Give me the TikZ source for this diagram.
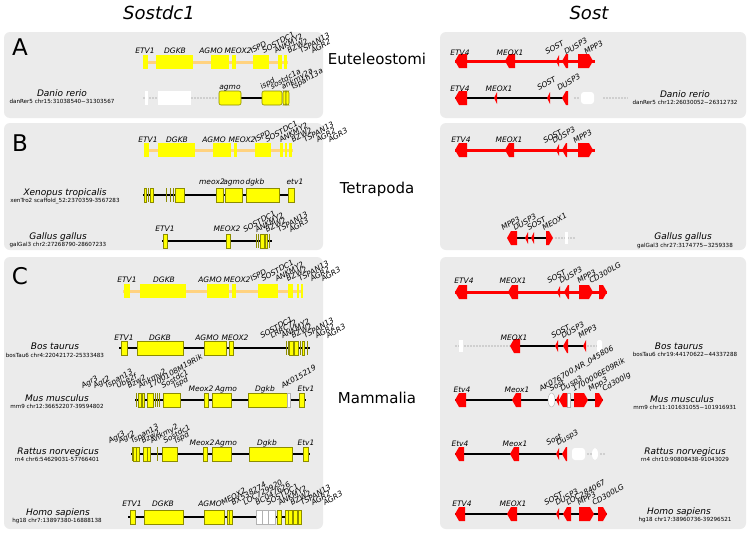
\documentclass[tikz,border=0pt]{standalone}
\usepackage{fontspec}
\setmainfont{DejaVu Sans}
\usetikzlibrary{calc}

\definecolor{panelgray}{HTML}{EBEBEB}
\definecolor{genefill}{HTML}{FFFF00}
\definecolor{refline}{HTML}{FFD27F}
\definecolor{geneedge}{HTML}{8C8C00}
\definecolor{sostred}{HTML}{FF0000}
\definecolor{gapgray}{HTML}{CFCFCF}

\begin{document}
\begin{tikzpicture}[x=1pt, y=-1pt,
        panel/.style={fill=panelgray, rounded corners=6pt},
        refaxis/.style={draw=refline, line width=3pt},
        redaxis/.style={draw=sostred, line width=3pt},
        chrom/.style={draw=black, line width=2.6pt},
        gapline/.style={draw=gapgray, line width=2.5pt, dash pattern=on 2pt off 1pt},
        refgene/.style={fill=genefill},
        sgene/.style={fill=genefill, draw=geneedge, line width=0.6pt},
        tick/.style={draw=geneedge, line width=0.6pt},
        redgene/.style={fill=sostred},
        ghost/.style={fill=white, draw=gray!60, line width=0.4pt},
        glbl/.style={font=\fontsize{7.5}{8}\selectfont\itshape, inner sep=0pt, anchor=base},
        rlbl/.style={font=\fontsize{7.5}{8}\selectfont\itshape, inner sep=0pt, rotate=30, anchor=base west},
        species/.style={font=\fontsize{9}{10}\selectfont\itshape, inner sep=0pt, anchor=base},
        loc/.style={font=\fontsize{5.6}{6}\selectfont, inner sep=0pt, anchor=base},
        clade/.style={font=\fontsize{15}{16}\selectfont, inner sep=0pt, anchor=base},
        letter/.style={font=\fontsize{23}{24}\selectfont, inner sep=0pt, anchor=base},
        title/.style={font=\fontsize{18}{20}\selectfont\itshape, inner sep=0pt, anchor=base}
    ]
    \fill[white] (0,0) rectangle (750,533);
    \useasboundingbox (0,0) rectangle (750,533);

    % panels
    \foreach \t/\b in {32/118,123/250,257/529} {
        \fill[panel] (4,\t) rectangle (323,\b);
        \fill[panel] (440,\t) rectangle (746,\b);
    }

    % titles, clades, panel letters
    \node[title] (ttl-sostdc1) at (159,19.5) {Sostdc1};
    \node[title] (ttl-sost) at (589,19) {Sost};
    \node[clade] (eutel) at (377,64.5) {Euteleostomi};
    \node[clade] (tetra) at (377,193.5) {Tetrapoda};
    \node[clade] (mamm) at (377,403) {Mammalia};
    \node[letter] (pA) at (20,55) {A};
    \node[letter] (pB) at (20,151) {B};
    \node[letter] (pC) at (20,284) {C};

    %% ---------- Sostdc1 side ----------
    % A: reference
    \draw[refaxis] (143,62) -- (288,62);
    \foreach \a/\b in {143/148,156/193,211/229,232/236,253/269,278/282,284/287}
        \fill[refgene] (\a,55) rectangle (\b,69);
    \foreach \x/\t [count=\k] in {145/ETV1,175/DGKB,211/AGMO,238/MEOX2}
        \node[glbl] (l-a1-\k) at (\x,53) {\t};
    \foreach \x/\t [count=\k] in {252/ISPD,264/SOSTDC1,276/ANKMY2,289/BZW2,301/TSPAN13,313/AGR2}
        \node[rlbl] (l-a1-r\k) at (\x,54) {\t};

    % A: Danio rerio
    \draw[gapline] (143,98) -- (218,98);
    \fill[white] (145,91) rectangle (148,105);
    \fill[white] (158,91) rectangle (191,105);
    \draw[chrom] (241,98) -- (262,98);
    \foreach \a/\b in {219/241,262/282,283/286,286/289}
        \filldraw[sgene, rounded corners=2pt] (\a,91) rectangle (\b,105);
    \node[glbl] (l-a2-1) at (230,89) {agmo};
    \foreach \x/\t [count=\k] in {262/ispd,272/sostdc1a,283/ankmy2a,293/tspan13a}
        \node[rlbl] (l-a2-r\k) at (\x,90) {\t};
    \node[species] (danio-l) at (62,96.5) {Danio rerio};
    \node[loc] (danio-l-loc) at (62,103) {danRer5 chr15:31038540−31303567};

    % B: reference
    \draw[refaxis] (144,150) -- (293,150);
    \foreach \a/\b in {144/149,158/195,213/231,234/237,255/271,280/283,285/287,289/292}
        \fill[refgene] (\a,143) rectangle (\b,157);
    \foreach \x/\t [count=\k] in {148/ETV1,177/DGKB,214/AGMO,242/MEOX2}
        \node[glbl] (l-b1-\k) at (\x,142.5) {\t};
    \foreach \x/\t [count=\k] in {256/ISPD,267/SOSTDC1,281/ANKMY2,293/BZW2,305/TSPAN13,318/AGR2,330/AGR3}
        \node[rlbl] (l-b1-r\k) at (\x,143) {\t};

    % B: Xenopus tropicalis
    \draw[chrom] (143,195) -- (295,195);
    \foreach \a/\b in {144/146,150/153,175/184,216/223,225/242,246/279,288/294}
        \filldraw[sgene] (\a,188) rectangle (\b,202);
    \foreach \x in {148,166,170,173}
        \draw[tick] (\x,188) -- (\x,202);
    \foreach \x/\t [count=\k] in {212/meox2,234/agmo,255/dgkb,295/etv1}
        \node[glbl] (l-b2-\k) at (\x,184) {\t};
    \node[species] (xeno-l) at (65,195.5) {Xenopus tropicalis};
    \node[loc] (xeno-l-loc) at (65,202) {xenTro2 scaffold\_52:2370359-3567283};

    % B: Gallus gallus
    \draw[chrom] (162,241) -- (272,241);
    \foreach \a/\b in {163/167,226/230,260/264,265/267}
        \filldraw[sgene] (\a,234) rectangle (\b,248);
    \foreach \x in {256,258,269}
        \draw[tick] (\x,234) -- (\x,248);
    \foreach \x/\t [count=\k] in {165/ETV1,227/MEOX2}
        \node[glbl] (l-b3-\k) at (\x,231.5) {\t};
    \foreach \x/\t [count=\k] in {245/SOSTDC1,257/ANKMY2,267/BZW2,279/TSPAN13,291/AGR3}
        \node[rlbl] (l-b3-r\k) at (\x,233) {\t};
    \node[species] (gallus-l) at (58,239.5) {Gallus gallus};
    \node[loc] (gallus-l-loc) at (58,246) {galGal3 chr2:27268790-28607233};

    % C: reference
    \draw[refaxis] (123,291) -- (303,291);
    \foreach \a/\b in {124/130,140/186,207/229,232/236,258/278,288/293,297/299,301/303}
        \fill[refgene] (\a,284) rectangle (\b,298);
    \foreach \x/\t [count=\k] in {127/ETV1,164/DGKB,210/AGMO,237/MEOX2}
        \node[glbl] (l-c1-\k) at (\x,282) {\t};
    \foreach \x/\t [count=\k] in {252/ISPD,263/SOSTDC1,277/ANKMY2,288/BZW2,300/TSPAN13,312/AGR2,323/AGR3}
        \node[rlbl] (l-c1-r\k) at (\x,282) {\t};

    % C: Bos taurus
    \draw[chrom] (119,348) -- (310,348);
    \foreach \a/\b in {121/127,137/183,204/226,229/233,289/293,294/298,302/304}
        \filldraw[sgene] (\a,341) rectangle (\b,355);
    \foreach \x in {286,288,300,307}
        \draw[tick] (\x,341) -- (\x,355);
    \foreach \x/\t [count=\k] in {124/ETV1,160/DGKB,207/AGMO,235/MEOX2}
        \node[glbl] (l-c2-\k) at (\x,340) {\t};
    \foreach \x/\t [count=\k] in {262/SOSTDC1,272/LRRC72,283/ANKMY2,293/BZW2,305/TSPAN13,317/AGR2,328/AGR3}
        \node[rlbl] (l-c2-r\k) at (\x,339) {\t};
    \node[species] (bos-l) at (55,349) {Bos taurus};
    \node[loc] (bos-l-loc) at (55,357) {bosTau6 chr4:22042172-25333483};

    % C: Mus musculus
    \draw[chrom] (135,400) -- (306,400);
    \foreach \a/\b in {138/141,142/144,147/153,163/180,204/208,212/231,248/287,299/304}
        \filldraw[sgene] (\a,393) rectangle (\b,407);
    \filldraw[ghost] (287,393) rectangle (290,407);
    \foreach \x in {136,155,157,159}
        \draw[tick] (\x,393) -- (\x,407);
    \foreach \x/\t [count=\k] in {201/Meox2,226/Agmo,265/Dgkb,306/Etv1}
        \node[glbl] (l-c3-\k) at (\x,391) {\t};
    \foreach \x/\t [count=\k] in {83/Agr3,95/Agr2,106/Tspan13,118/Ube2f,129/Bzw2,140/Ankmy2,150/1700108M19Rik,163/Sostdc1,175/Ispd,283/AK015219}
        \node[rlbl] (l-c3-r\k) at (\x,389) {\t};
    \node[species] (mus-l) at (57,401.5) {Mus musculus};
    \node[loc] (mus-l-loc) at (57,408) {mm9 chr12:36652207-39594802};

    % C: Rattus norvegicus
    \draw[chrom] (131,454) -- (310,454);
    \foreach \a/\b in {133/136,136/139,143/147,147/150,162/177,203/207,212/231,249/292,303/308}
        \filldraw[sgene] (\a,447) rectangle (\b,461);
    \foreach \x in {132,157}
        \draw[tick] (\x,447) -- (\x,461);
    \foreach \x/\t [count=\k] in {202/Meox2,226/Agmo,267/Dgkb,306/Etv1}
        \node[glbl] (l-c4-\k) at (\x,445) {\t};
    \foreach \x/\t [count=\k] in {110/Agr3,120/Agr2,132/Tspan13,143/Bzw2,152/Ankmy2,165/Sostdc1,176/Ispd}
        \node[rlbl] (l-c4-r\k) at (\x,444) {\t};
    \node[species] (rattus-l) at (58,454.5) {Rattus norvegicus};
    \node[loc] (rattus-l-loc) at (57,461) {rn4 chr6:54629031-57766401};

    % C: Homo sapiens
    \draw[chrom] (128,517) -- (302,517);
    \foreach \a/\b in {130/135,144/183,204/224,227/229,229/232,277/281,285/288,288/292,293/297,298/301}
        \filldraw[sgene] (\a,510) rectangle (\b,524);
    \foreach \a/\b in {256/262,262/268,268/275}
        \filldraw[ghost] (\a,510) rectangle (\b,524);
    \foreach \x/\t [count=\k] in {132/ETV1,163/DGKB,210/AGMO}
        \node[glbl] (l-c5-\k) at (\x,506) {\t};
    \foreach \x/\t [count=\k] in {223/MEOX2,233/BX538274,245/LOC729920,257/BC047626,268/SOSTDC1,280/ANKMY2,292/BZW2,302/TSPAN13,313/AGR2,325/AGR3}
        \node[rlbl] (l-c5-r\k) at (\x,506) {\t};
    \node[species] (homo-l) at (58,515.5) {Homo sapiens};
    \node[loc] (homo-l-loc) at (57,522) {hg18 chr7:13897380-16888138};

    %% ---------- Sost side ----------
    % axes
    \draw[redaxis] (455,61) -- (595,61);
    \draw[chrom] (455,98) -- (565,98);
    \draw[redaxis] (455,150) -- (595,150);
    \draw[chrom] (510,238) -- (551,238);
    \draw[redaxis] (455,292) -- (607,292);
    \draw[gapline] (455,346) -- (597,346);
    \draw[chrom] (518,346) -- (586,346);
    \draw[chrom] (455,400) -- (603,400);
    \draw[chrom] (455,454) -- (565,454);
    \draw[chrom] (455,514) -- (607,514);

    % grey gaps and blank genes
    \draw[gapline] (574,98) -- (579,98);
    \draw[gapline] (603,98) -- (628,98);
    \fill[white, rounded corners=3pt] (581,92) rectangle (594,104);
    \draw[gapline] (555,238) -- (575,238);
    \fill[white] (565,232) rectangle (568,244);
    \fill[white] (459,340) rectangle (463,352);
    \fill[white, rounded corners=2pt] (597,340) rectangle (602,352);
    \filldraw[ghost] (551.5,400) ellipse (3.5 and 7);
    \filldraw[ghost] (567,393) rectangle (570,407);
    \draw[gapline] (587,454) -- (592,454);
    \draw[gapline] (600,454) -- (605,454);
    \fill[white, rounded corners=3pt] (572,448) rectangle (585,460);
    \fill[white] (595,454) ellipse (3 and 6);

    % genes pointing left
    \foreach \a/\b/\y in {455/467/61,505/515/61,562/568/61,
            455/467/98,562/568/98,
            455/467/150,505/514/150,562/567/150,
            507/517/238,
            455/467/292,508/518/292,564/569/292,
            510/520/346,563/568/346,
            455/466/400,512/521/400,559/567/400,
            455/464/454,510/519/454,562/567/454,
            455/465/514,507/517/514,563/571/514}
        \fill[redgene] (\a,\y) -- ({\a+4},{\y-7}) -- (\b,{\y-7}) -- (\b,{\y+7}) -- ({\a+4},{\y+7}) -- cycle;
    % genes pointing right
    \foreach \a/\b/\y in {578/593/61,578/593/150,546/553/238,
            579/593/292,599/607/292,
            574/588/400,595/603/400,
            579/594/514,598/607/514}
        \fill[redgene] (\a,{\y-7}) -- ({\b-4},{\y-7}) -- (\b,\y) -- ({\b-4},{\y+7}) -- (\a,{\y+7}) -- cycle;
    % short genes
    \foreach \a/\y in {556/61,494/98,547/98,556/150,525/238,531/238,557/292,555/346,583/346,556/400,556/454,556/514}
        \fill[redgene] (\a,\y) -- ({\a+3},{\y-6}) -- ({\a+3},{\y+6}) -- cycle;

    % A
    \foreach \x/\t [count=\k] in {460/ETV4,510/MEOX1}
        \node[glbl] (r-a1-\k) at (\x,55) {\t};
    \foreach \x/\t [count=\k] in {547/SOST,566/DUSP3,586/MPP3}
        \node[rlbl] (r-a1-r\k) at (\x,55) {\t};
    \foreach \x/\t [count=\k] in {460/ETV4,499/MEOX1}
        \node[glbl] (r-a2-\k) at (\x,91) {\t};
    \foreach \x/\t [count=\k] in {539/SOST,559/DUSP3}
        \node[rlbl] (r-a2-r\k) at (\x,91) {\t};
    \node[species] (danio-r) at (685,97.5) {Danio rerio};
    \node[loc] (danio-r-loc) at (685,104) {danRer5 chr12:26030052−26312732};

    % B
    \foreach \x/\t [count=\k] in {461/ETV4,509/MEOX1}
        \node[glbl] (r-b1-\k) at (\x,142) {\t};
    \foreach \x/\t [count=\k] in {545/SOST,554/DUSP3,575/MPP3}
        \node[rlbl] (r-b1-r\k) at (\x,144) {\t};
    \foreach \x/\t [count=\k] in {503/MPP3,515/DUSP3,529/SOST,544/MEOX1}
        \node[rlbl] (r-b2-r\k) at (\x,231) {\t};
    \node[species] (gallus-r) at (683,239.5) {Gallus gallus};
    \node[loc] (gallus-r-loc) at (685,247) {galGal3 chr27:3174775−3259338};

    % C
    \foreach \x/\t [count=\k] in {464/ETV4,513/MEOX1}
        \node[glbl] (r-c1-\k) at (\x,283) {\t};
    \foreach \x/\t [count=\k] in {549/SOST,561/DUSP3,579/MPP3,591/CD300LG}
        \node[rlbl] (r-c1-r\k) at (\x,284) {\t};
    \node[glbl] (r-c2-1) at (514,340) {MEOX1};
    \foreach \x/\t [count=\k] in {553/SOST,563/DUSP3,580/MPP3}
        \node[rlbl] (r-c2-r\k) at (\x,339) {\t};
    \node[species] (bos-r) at (679,349.5) {Bos taurus};
    \node[loc] (bos-r-loc) at (685,356) {bosTau6 chr19:44170622−44337288};
    \foreach \x/\t [count=\k] in {462/Etv4,517/Meox1}
        \node[glbl] (r-c3-\k) at (\x,392) {\t};
    \foreach \x/\t [count=\k] in {541/{AK076700,NR\_045806},551/Sost,562/Dusp3,574/1700006E09Rik,590/Mpp3,604/Cd300lg}
        \node[rlbl] (r-c3-r\k) at (\x,392) {\t};
    \node[species] (mus-r) at (682,402.5) {Mus musculus};
    \node[loc] (mus-r-loc) at (685,409) {mm9 chr11:101631055−101916931};
    \foreach \x/\t [count=\k] in {460/Etv4,515/Meox1}
        \node[glbl] (r-c4-\k) at (\x,446) {\t};
    \foreach \x/\t [count=\k] in {548/Sost,558/Dusp3}
        \node[rlbl] (r-c4-r\k) at (\x,446) {\t};
    \node[species] (rattus-r) at (685,454.5) {Rattus norvegicus};
    \node[loc] (rattus-r-loc) at (685,461) {rn4 chr10:90808438-91043029};
    \foreach \x/\t [count=\k] in {462/ETV4,513/MEOX1}
        \node[glbl] (r-c5-\k) at (\x,506) {\t};
    \foreach \x/\t [count=\k] in {546/SOST,557/DUSP3,568/LOC284067,579/MPP3,594/CD300LG}
        \node[rlbl] (r-c5-r\k) at (\x,506) {\t};
    \node[species] (homo-r) at (679,514.5) {Homo sapiens};
    \node[loc] (homo-r-loc) at (685,521) {hg18 chr17:38960736-39296521};
\end{tikzpicture}
\end{document}
